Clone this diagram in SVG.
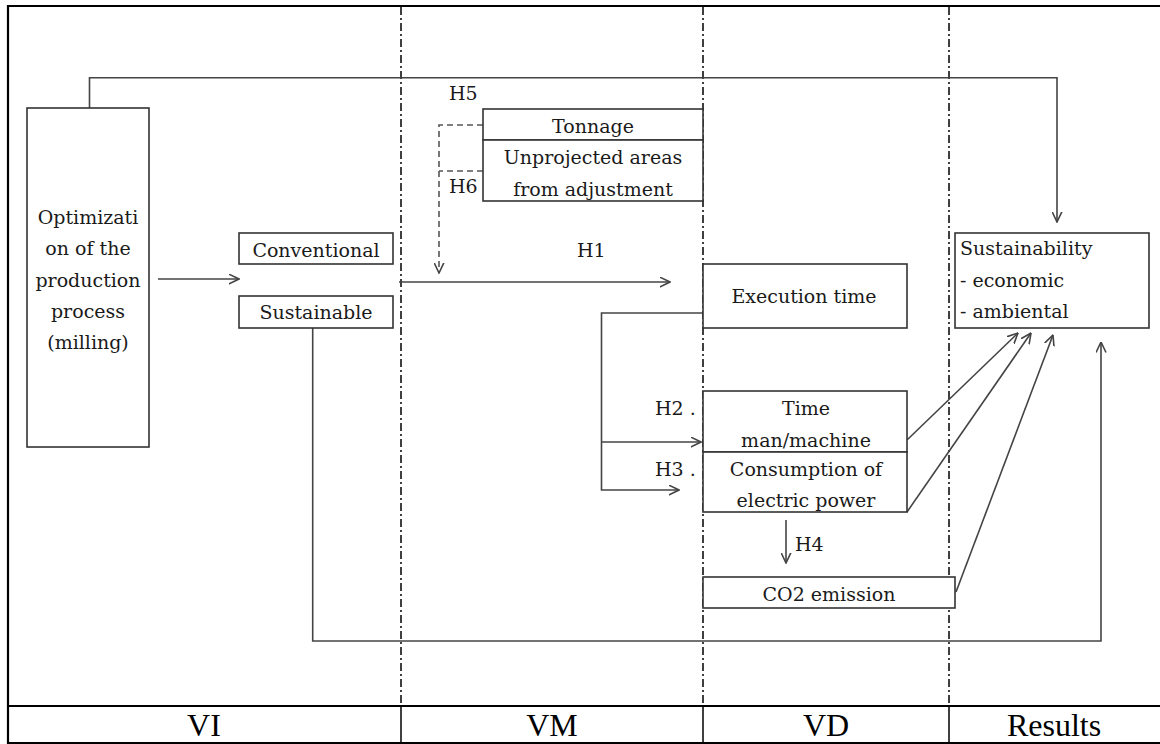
<svg xmlns="http://www.w3.org/2000/svg" width="1160" height="744" viewBox="0 0 1160 744">
<style>
.box{fill:#fff;stroke:#333;stroke-width:1.6}
.t{font-family:"DejaVu Serif","Liberation Serif",serif;font-size:19px;fill:#1a1a1a}
.c{text-anchor:middle}
.ln{fill:none;stroke:#444;stroke-width:1.6}
.dsh{fill:none;stroke:#555;stroke-width:1.6;stroke-dasharray:6 4}
.dd{stroke:#000;stroke-width:1.5;stroke-dasharray:8 3 2 3}
.frame{stroke:#000;stroke-width:2.2}
.col{font-family:"Liberation Serif",serif;font-size:32px;fill:#000;text-anchor:middle}
</style>
<defs>
<marker id="ah" viewBox="0 0 11 11" refX="10.5" refY="5.5" markerWidth="11" markerHeight="11" markerUnits="userSpaceOnUse" orient="auto">
<path d="M0,0.5 L10.5,5.5 L0,10.5" fill="none" stroke="#444" stroke-width="1.6"/>
</marker>
</defs>
<g id="frame">
<line class="frame" x1="8" y1="6" x2="1160" y2="6"/>
<line class="frame" x1="8" y1="5" x2="8" y2="744"/>
<line class="frame" x1="8" y1="706" x2="1160" y2="706"/>
<line class="frame" x1="8" y1="743" x2="1160" y2="743"/>
<line class="dd" x1="401" y1="7" x2="401" y2="706"/>
<line class="dd" x1="703" y1="7" x2="703" y2="706"/>
<line class="dd" x1="949" y1="7" x2="949" y2="706"/>
<line stroke="#000" stroke-width="1.5" x1="401" y1="706" x2="401" y2="743"/>
<line stroke="#000" stroke-width="1.5" x1="703" y1="706" x2="703" y2="743"/>
<line stroke="#000" stroke-width="1.5" x1="949" y1="706" x2="949" y2="743"/>
<text class="col" x="204" y="736">VI</text>
<text class="col" x="552" y="736">VM</text>
<text class="col" x="826" y="736">VD</text>
<text class="col" x="1054" y="736">Results</text>
</g>
<g id="connectors">
<polyline class="ln" points="89.5,108 89.5,77.7 1057,77.7 1057,222" marker-end="url(#ah)"/>
<line class="ln" x1="158" y1="279" x2="239" y2="279" marker-end="url(#ah)"/>
<line class="ln" x1="399" y1="282" x2="670" y2="282" marker-end="url(#ah)"/>
<polyline class="dsh" points="483,125 439,125 439,273" marker-end="url(#ah)"/>
<line class="dsh" x1="483" y1="171" x2="439" y2="171"/>
<polyline class="ln" points="703,313 601.5,313 601.5,490 679,490" marker-end="url(#ah)"/>
<line class="ln" x1="601.5" y1="442" x2="701" y2="442" marker-end="url(#ah)"/>
<line class="ln" x1="786" y1="520" x2="786" y2="563" marker-end="url(#ah)"/>
<polyline class="ln" points="312.7,328 312.7,641 1101,641 1101,342" marker-end="url(#ah)"/>
<line class="ln" x1="907" y1="440" x2="1018" y2="333" marker-end="url(#ah)"/>
<line class="ln" x1="907" y1="512" x2="1031" y2="333" marker-end="url(#ah)"/>
<line class="ln" x1="956" y1="592" x2="1053" y2="335" marker-end="url(#ah)"/>
<text class="t" x="449" y="100">H5</text>
<text class="t" x="449" y="193">H6</text>
<text class="t" x="577" y="257">H1</text>
<text class="t" x="655" y="415">H2 .</text>
<text class="t" x="655" y="476">H3 .</text>
<text class="t" x="795" y="551">H4</text>
</g>
<g id="optimization">
<rect class="box" x="27" y="108" width="122" height="339"/>
<text class="t c" x="88" y="224">Optimizati</text>
<text class="t c" x="88" y="255">on of the</text>
<text class="t c" x="88" y="287">production</text>
<text class="t c" x="88" y="318">process</text>
<text class="t c" x="88" y="349">(milling)</text>
</g>
<g id="conventional">
<rect class="box" x="239" y="233" width="154" height="31"/>
<text class="t c" x="316" y="257">Conventional</text>
</g>
<g id="sustainable">
<rect class="box" x="239" y="296" width="154" height="32"/>
<text class="t c" x="316" y="319">Sustainable</text>
</g>
<g id="tonnage">
<rect class="box" x="483" y="109" width="220" height="31"/>
<text class="t c" x="593" y="133">Tonnage</text>
</g>
<g id="unprojected">
<rect class="box" x="483" y="140" width="220" height="61"/>
<text class="t c" x="593" y="164">Unprojected areas</text>
<text class="t c" x="593" y="196">from adjustment</text>
</g>
<g id="execution">
<rect class="box" x="703" y="264" width="204" height="64"/>
<text class="t c" x="804" y="303">Execution time</text>
</g>
<g id="time">
<rect class="box" x="703" y="391" width="204" height="61"/>
<text class="t c" x="806" y="415">Time</text>
<text class="t c" x="806" y="447">man/machine</text>
</g>
<g id="consumption">
<rect class="box" x="703" y="452" width="204" height="60"/>
<text class="t c" x="806" y="476">Consumption of</text>
<text class="t c" x="806" y="507">electric power</text>
</g>
<g id="co2">
<rect class="box" x="703" y="577" width="252" height="31"/>
<text class="t c" x="829" y="601">CO2 emission</text>
</g>
<g id="sustainability">
<rect class="box" x="955" y="233" width="194" height="95"/>
<text class="t" x="960" y="255">Sustainability</text>
<text class="t" x="960" y="287">- economic</text>
<text class="t" x="960" y="318">- ambiental</text>
</g>
</svg>
